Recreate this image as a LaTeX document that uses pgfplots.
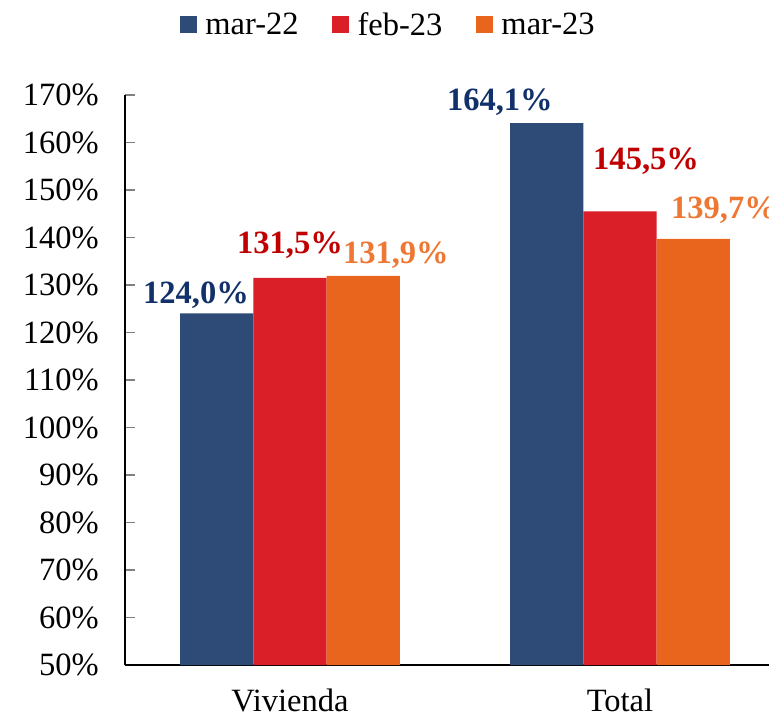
\documentclass[border=0pt]{standalone}
\usepackage{fontspec}
\setmainfont{Liberation Serif}
\usepackage{pgfplots}
\pgfplotsset{compat=1.18}
\definecolor{cblue}{HTML}{2D4B76}
\definecolor{cred}{HTML}{DA1F29}
\definecolor{corange}{HTML}{E9651E}
\definecolor{lblue}{HTML}{12306A}
\definecolor{lred}{HTML}{C00000}
\definecolor{lorange}{HTML}{EE7733}
\newcommand{\chartfont}{\fontsize{18.5}{22}\selectfont}
\begin{document}
\begin{tikzpicture}
\useasboundingbox (-2.5,-1.04) rectangle (12.88,13.3);
\clip (-2.5,-1.04) rectangle (12.88,13.3);
\begin{axis}[
  at={(0,0)}, anchor=south west,
  scale only axis, clip=false,
  width=12.88cm, height=11.4cm,
  xmin=-0.5, xmax=1.4515,
  ymin=50, ymax=170,
  ytick={50,60,...,170},
  yticklabel={\pgfmathprintnumber{\tick}\%},
  /pgf/number format/assume math mode=true,
  xtick={0,1},
  xticklabels={Vivienda,Total},
  extra x ticks={0.5},
  extra x tick labels={},
  extra x tick style={major tick length=0.2cm, tick style={draw=black, line width=1pt}},
  axis lines*=left,
  axis line style={line width=1pt},
  tick align=inside,
  major tick length=0.2cm,
  xtick style={draw=none},
  ytick style={line width=1pt},
  ticklabel style={font=\chartfont},
  yticklabel style={xshift=-0.4cm},
  xticklabel style={yshift=-0.16cm},
  ybar, bar width=0.222,
  legend style={at={(0.41,1.123)}, anchor=center, draw=none, fill=none,
    legend columns=3, font=\chartfont,
    /tikz/every odd column/.append style={column sep=0.1cm},
    /tikz/every even column/.append style={column sep=0.6cm}},
  legend image code/.code={\fill[#1] (0cm,-0.17cm) rectangle (0.34cm,0.17cm);},
]
\addplot[fill=cblue, draw=none, bar shift=-0.222] coordinates {(0,124.0) (1,164.1)};
\addplot[fill=cred, draw=none, bar shift=0] coordinates {(0,131.5) (1,145.5)};
\addplot[fill=corange, draw=none, bar shift=0.222] coordinates {(0,131.9) (1,139.7)};
\legend{mar-22, feb-23, mar-23}
\node[font=\chartfont\bfseries, text=lblue] at (axis cs:-0.285,127.8) {124,0\%};
\node[font=\chartfont\bfseries, text=lred] at (axis cs:0,138.4) {131,5\%};
\node[font=\chartfont\bfseries, text=lorange] at (axis cs:0.321,136.2) {131,9\%};
\node[font=\chartfont\bfseries, text=lblue] at (axis cs:0.636,168.5) {164,1\%};
\node[font=\chartfont\bfseries, text=lred] at (axis cs:1.079,156.1) {145,5\%};
\node[font=\chartfont\bfseries, text=lorange] at (axis cs:1.315,145.7) {139,7\%};
\end{axis}
\end{tikzpicture}
\end{document}
